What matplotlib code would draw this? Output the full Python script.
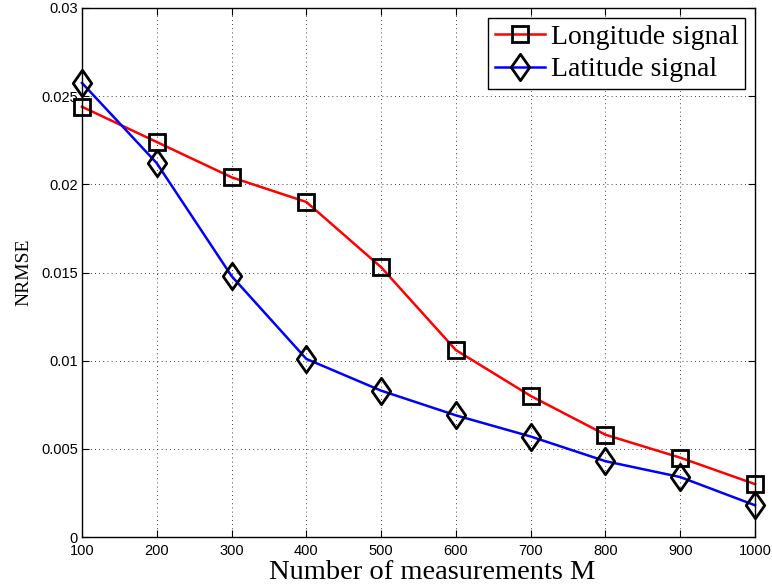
import numpy as np
import matplotlib.pyplot as plt
from matplotlib.path import Path

# measurement counts and reconstruction error for both coordinates
m_values = [100, 200, 300, 400, 500, 600, 700, 800, 900, 1000]
nrmse_longitude = [0.0244, 0.0224, 0.0204, 0.0190, 0.0153, 0.0106, 0.0080, 0.0058, 0.0045, 0.0030]
nrmse_latitude = [0.02575, 0.0212, 0.0148, 0.0101, 0.0083, 0.0069, 0.0057, 0.0043, 0.0034, 0.0018]

x_ticks = [100, 200, 300, 400, 500, 600, 700, 800, 900, 1000]
y_ticks = [0, 0.005, 0.01, 0.015, 0.02, 0.025, 0.03]
y_ticklabels = ["0", "0.005", "0.01", "0.015", "0.02", "0.025", "0.03"]

# tall diamond like the MATLAB one
diamond = Path([(0, 1), (0.7, 0), (0, -1), (-0.7, 0), (0, 1)],
               [Path.MOVETO, Path.LINETO, Path.LINETO, Path.LINETO, Path.CLOSEPOLY])

serif = "Liberation Serif"
sans = "Liberation Sans"

fig = plt.figure(figsize=(7.72, 5.88), dpi=100)
ax = fig.add_axes([0.1062, 0.0867, 0.8718, 0.8997])

ax.plot(m_values, nrmse_longitude, color="red", lw=1.8, marker="s", ms=11,
        mfc="none", mec="black", mew=2.0, label="Longitude signal", clip_on=False)
ax.plot(m_values, nrmse_latitude, color="blue", lw=1.8, marker=diamond, ms=19,
        mfc="none", mec="black", mew=2.0, label="Latitude signal", clip_on=False)

ax.set_xlim(100, 1000)
ax.set_ylim(0, 0.03)
ax.set_xticks(x_ticks)
ax.set_xticklabels([str(v) for v in x_ticks], fontfamily=sans, fontsize=10.5)
ax.set_yticks(y_ticks)
ax.set_yticklabels(y_ticklabels, fontfamily=sans, fontsize=10.5)
ax.tick_params(direction="in", top=True, right=True, length=5, width=0.8, pad=3)
ax.tick_params(axis="x", pad=5)
ax.grid(True, linestyle=(0, (1, 4)), color="black", lw=0.6)

for sp in ax.spines.values():
    sp.set_linewidth(1.0)

ax.set_xlabel("Number of measurements M", fontfamily=serif, fontsize=20.5)
ax.xaxis.set_label_coords(0.52, -0.043, transform=ax.transAxes)
ax.xaxis.label.set_verticalalignment("top")
ax.set_ylabel("NRMSE", fontfamily=serif, fontsize=14, labelpad=6)

leg = ax.legend(loc="upper right", prop={"family": serif, "size": 20},
                fancybox=False, framealpha=1, edgecolor="black",
                borderpad=0.25, labelspacing=0.25, handlelength=1.8,
                handletextpad=0.2, borderaxespad=0.35)
leg.get_frame().set_linewidth(1.0)

fig.savefig("out.png", dpi=100)
